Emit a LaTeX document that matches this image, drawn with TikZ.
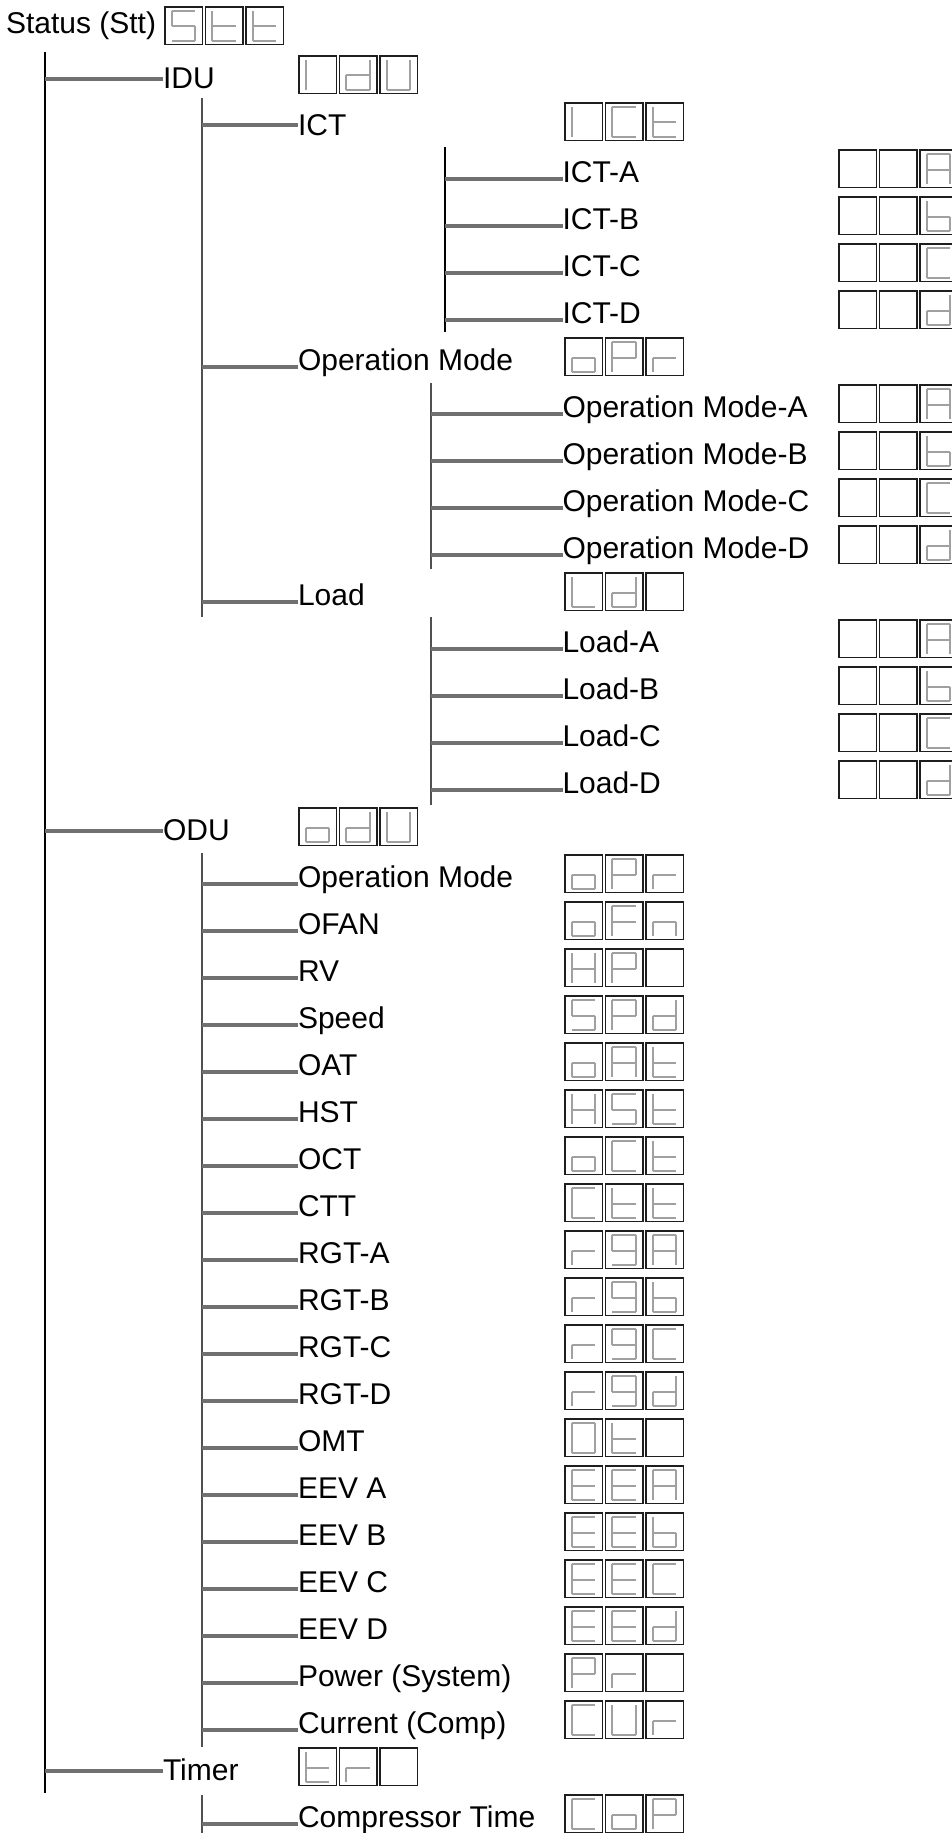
\documentclass[tikz,border=0pt]{standalone}
\usepackage{fontspec}
\setmainfont{Liberation Sans}
\definecolor{hcol}{RGB}{112,112,112}
\definecolor{vcol}{RGB}{80,80,80}
\definecolor{segcol}{RGB}{160,160,160}
\definecolor{boxcol}{RGB}{30,30,30}
% seven-segment glyphs: list of lit segments
\def\zgS{a,f,g,c,d}
\def\zgt{f,e,g,d}
\def\zgI{f,e}
\def\zgd{b,c,g,e,d}
\def\zgU{f,e,d,c,b}
\def\zgC{a,f,e,d}
\def\zgA{a,b,c,e,f,g}
\def\zgb{f,e,g,c,d}
\def\zgo{g,c,d,e}
\def\zgP{a,b,f,g,e}
\def\zgr{g,e}
\def\zgF{a,f,g,e}
\def\zgn{g,e,c}
\def\zgH{f,e,b,c,g}
\def\zgg{a,b,c,d,f,g}
\def\zgO{a,b,c,d,e,f}
\def\zgE{a,f,e,d,g}
\def\zgL{f,e,d}
\def\zgN{}
\newcommand\zsa{\draw[seg] (6.5,4) -- (30,4);}
\newcommand\zsb{\draw[seg] (30,4) -- (30,19.5);}
\newcommand\zsc{\draw[seg] (30,19.5) -- (30,34);}
\newcommand\zsd{\draw[seg] (6.5,34) -- (30,34);}
\newcommand\zse{\draw[seg] (6.5,19.5) -- (6.5,34);}
\newcommand\zsf{\draw[seg] (6.5,4) -- (6.5,19.5);}
\newcommand\zsg{\draw[seg] (6.5,19.5) -- (30,19.5);}
\newcommand\dbox[4]{%
  \node[dbox, anchor=north west] (#1) at (#2,#3) {};
  \begin{scope}[shift={(#2,#3)}]
    \edef\zlist{\csname zg#4\endcsname}%
    \foreach \s in \zlist {\csname zs\s\endcsname}%
  \end{scope}
}
\newcommand\disp[6]{%
  \dbox{#1a}{#2}{#3}{#4}%
  \dbox{#1b}{#2+40.5}{#3}{#5}%
  \dbox{#1c}{#2+81}{#3}{#6}%
}
\tikzset{
  seg/.style={draw=segcol, line width=2pt},
  dbox/.style={draw=boxcol, line width=1.5pt, minimum width=37.5pt, minimum height=37.5pt, inner sep=0pt, outer sep=0pt},
  lbl/.style={font=\fontsize{30}{36}\selectfont, inner sep=0pt, outer sep=0pt, anchor=base west, text height=21.5pt},
  lblA/.style={lbl, text depth=2pt},
  lblB/.style={lbl, text depth=0pt},
  lblC/.style={lbl, text depth=13pt},
  hconn/.style={draw=hcol, line width=4pt},
  vthin/.style={draw=black, line width=1.3pt},
  vgray/.style={draw=vcol, line width=2pt},
}
\begin{document}
\begin{tikzpicture}[x=1pt,y=-1pt]
\useasboundingbox (0,0) rectangle (952,1833);
\clip (0,0) rectangle (952,1833);
\fill[white] (0,0) rectangle (952,1833);

% root
\node[lblB] (stt) at (6,33.5) {Status (Stt)};
\disp{sttd}{165}{7}{S}{t}{t}

% vertical bars
\coordinate (stop) at (45,52);   \coordinate (sbot) at (45,1793);
\coordinate (idutop) at (202,98); \coordinate (idubot) at (202,617);
\coordinate (icttop) at (445,147); \coordinate (ictbot) at (445,332);
\coordinate (omtop) at (431,383); \coordinate (ombot) at (431,569);
\coordinate (ldtop) at (431,617); \coordinate (ldbot) at (431,805);
\coordinate (odutop) at (202,853); \coordinate (odubot) at (202,1747);
\coordinate (tmrtop) at (202,1795); \coordinate (tmrbot) at (202,1840);
\draw[vthin] (stop) -- (sbot);
\draw[vgray] (idutop) -- (idubot);
\draw[vthin] (icttop) -- (ictbot);
\draw[vgray] (omtop) -- (ombot);
\draw[vgray] (ldtop) -- (ldbot);
\draw[vgray] (odutop) -- (odubot);
\draw[vgray] (tmrtop) -- (tmrbot);

% IDU
\node[lblA] (idu) at (163,88.75) {IDU};
\disp{idud}{299}{56}{I}{d}{U}
\draw[hconn] (idu.west -| stop) -- (idu.west);

% ICT
\node[lblB] (ict) at (298,135.75) {ICT};
\disp{ictd}{565}{103}{I}{C}{t}
\draw[hconn] (ict.west -| idutop) -- (ict.west);
\foreach \k/\nm/\g in {2/A/A,3/B/b,4/C/C,5/D/d}{
  \node[lblC] (ict\nm) at (562.5,88.75+47*\k) {ICT-\nm};
  \disp{ict\nm d}{839}{56+47*\k}{N}{N}{\g}
  \draw[hconn] (ict\nm.west -| icttop) -- (ict\nm.west);
}

% Operation Mode (IDU)
\node[lblC] (om) at (298,370.75) {Operation Mode};
\disp{omd}{565}{338}{o}{P}{r}
\draw[hconn] (om.west -| idutop) -- (om.west);
\foreach \k/\nm/\g in {7/A/A,8/B/b,9/C/C,10/D/d}{
  \node[lblC] (om\nm) at (562.5,88.75+47*\k) {Operation Mode-\nm};
  \disp{om\nm d}{839}{56+47*\k}{N}{N}{\g}
  \draw[hconn] (om\nm.west -| omtop) -- (om\nm.west);
}

% Load
\node[lblC] (ld) at (298,605.75) {Load};
\disp{ldd}{565}{573}{L}{d}{N}
\draw[hconn] (ld.west -| idutop) -- (ld.west);
\foreach \k/\nm/\g in {12/A/A,13/B/b,14/C/C,15/D/d}{
  \node[lblC] (ld\nm) at (562.5,88.75+47*\k) {Load-\nm};
  \disp{ld\nm d}{839}{56+47*\k}{N}{N}{\g}
  \draw[hconn] (ld\nm.west -| ldtop) -- (ld\nm.west);
}

% ODU
\node[lblA] (odu) at (163,840.75) {ODU};
\disp{odud}{299}{808}{o}{d}{U}
\draw[hconn] (odu.west -| stop) -- (odu.west);
\foreach \k/\nm/\txt/\ga/\gb/\gc in {
  17/opm/Operation Mode/o/P/r,
  18/ofan/OFAN/o/F/n,
  19/rv/RV/H/P/N,
  20/spd/Speed/S/P/d,
  21/oat/OAT/o/A/t,
  22/hst/HST/H/S/t,
  23/oct/OCT/o/C/t,
  24/ctt/CTT/C/t/t,
  25/rgta/RGT-A/r/g/A,
  26/rgtb/RGT-B/r/g/b,
  27/rgtc/RGT-C/r/g/C,
  28/rgtd/RGT-D/r/g/d,
  29/omt/OMT/O/t/N,
  30/eeva/EEV A/E/E/A,
  31/eevb/EEV B/E/E/b,
  32/eevc/EEV C/E/E/C,
  33/eevd/EEV D/E/E/d,
  34/pwr/Power (System)/P/r/N,
  35/cur/Current (Comp)/C/U/r}{
  \node[lblC] (o\nm) at (298,88.75+47*\k) {\txt};
  \disp{o\nm d}{565}{56+47*\k}{\ga}{\gb}{\gc}
  \draw[hconn] (o\nm.west -| odutop) -- (o\nm.west);
}

% Timer
\node[lblA] (tmr) at (163,1780.75) {Timer};
\disp{tmrd}{299}{1748}{t}{r}{N}
\draw[hconn] (tmr.west -| stop) -- (tmr.west);
\node[lblC] (cpt) at (298,1827.75) {Compressor Time};
\disp{cptd}{565}{1795}{C}{o}{P}
\draw[hconn] (cpt.west -| tmrtop) -- (cpt.west);
\end{tikzpicture}
\end{document}
